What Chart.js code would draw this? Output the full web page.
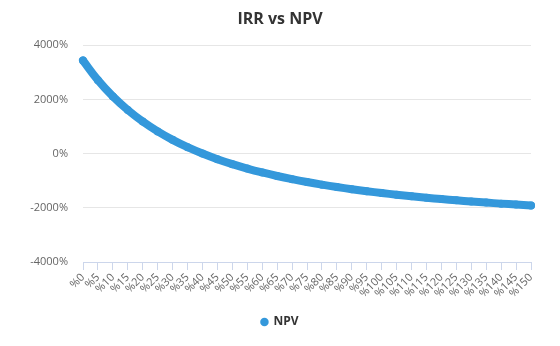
<!DOCTYPE html>
<html>
<head>
<meta charset="utf-8">
<script src="https://cdn.jsdelivr.net/npm/chart.js@4/dist/chart.umd.min.js"></script>
<style>
  html,body{margin:0;padding:0;background:#fff;}
  #wrap{width:560px;height:346px;position:relative;}
</style>
</head>
<body>
<div id="wrap"><canvas id="c" width="560" height="346"></canvas></div>
<script>
// Discount rates (%)
const rates = [0,5,10,15,20,25,30,35,40,45,50,55,60,65,70,75,80,85,90,95,100,105,110,115,120,125,130,135,140,145,150];
// NPV values (%)
const npv = [3436,2711,2110,1607,1182,819,507,237,1,-206,-389,-551,-696,-827,-944,-1050,-1146,-1234,-1314,-1387,-1455,-1517,-1575,-1628,-1678,-1724,-1767,-1808,-1846,-1881,-1915];
const seriesName = 'NPV';
const chartTitle = 'IRR vs NPV';
const yTicks = [-4000,-2000,0,2000,4000];

const FONT = "'Open Sans', 'DejaVu Sans', sans-serif";
const blue = '#3498db';

new Chart(document.getElementById('c'), {
  type: 'line',
  data: {
    datasets: [{
      label: seriesName,
      data: rates.map((r,i)=>({x:r, y:npv[i]})),
      borderColor: blue,
      backgroundColor: blue,
      borderWidth: 8,
      pointRadius: 4,
      pointBorderWidth: 0,
      pointBackgroundColor: blue,
      tension: 0.4,
      borderCapStyle: 'round',
      borderJoinStyle: 'round',
      clip: 8,
      fill: false
    }]
  },
  options: {
    responsive: false,
    animation: false,
    devicePixelRatio: 1,
    layout: { padding: { left: 0, right: 0, top: 0, bottom: 8 } },
    plugins: {
      title: {
        display: true,
        text: chartTitle,
        color: '#333',
        font: { family: FONT, size: 16, weight: 'bold' },
        padding: { top: 10, bottom: 16 }
      },
      legend: {
        position: 'bottom',
        labels: {
          usePointStyle: true,
          pointStyle: 'circle',
          boxWidth: 6,
          boxHeight: 6,
          color: '#333',
          font: { family: FONT, size: 12, weight: 'bold' },
          padding: 10
        }
      },
      tooltip: { enabled: false }
    },
    scales: {
      x: {
        type: 'linear',
        min: 0, max: 150,
        afterFit: s => { s.height = 44; },
        afterBuildTicks: s => { s.ticks = rates.filter(v => v % 5 === 0).map(v => ({value: v})); },
        ticks: {
          autoSkip: false,
          maxRotation: 45, minRotation: 45,
          color: '#666',
          font: { family: FONT, size: 11 },
          padding: 1,
          callback: v => '%' + v
        },
        grid: { drawOnChartArea: false, drawTicks: true, tickLength: 8, color: '#ccd6eb' },
        border: { display: true, color: '#ccd6eb', width: 1 }
      },
      y: {
        min: -4000, max: 4000,
        afterFit: s => { s.width = 83; },
        afterBuildTicks: s => { s.ticks = yTicks.map(v => ({value: v})); },
        ticks: {
          color: '#666',
          font: { family: FONT, size: 11 },
          padding: 15,
          callback: v => v + '%'
        },
        grid: { color: '#e6e6e6', drawTicks: false, lineWidth: 1 },
        border: { display: false }
      },
      yRight: {
        position: 'right',
        display: true,
        min: -4000, max: 4000,
        afterFit: s => { s.width = 29; },
        ticks: { display: false },
        grid: { drawOnChartArea: false, drawTicks: false },
        border: { display: false }
      }
    }
  }
});
</script>
</body>
</html>
